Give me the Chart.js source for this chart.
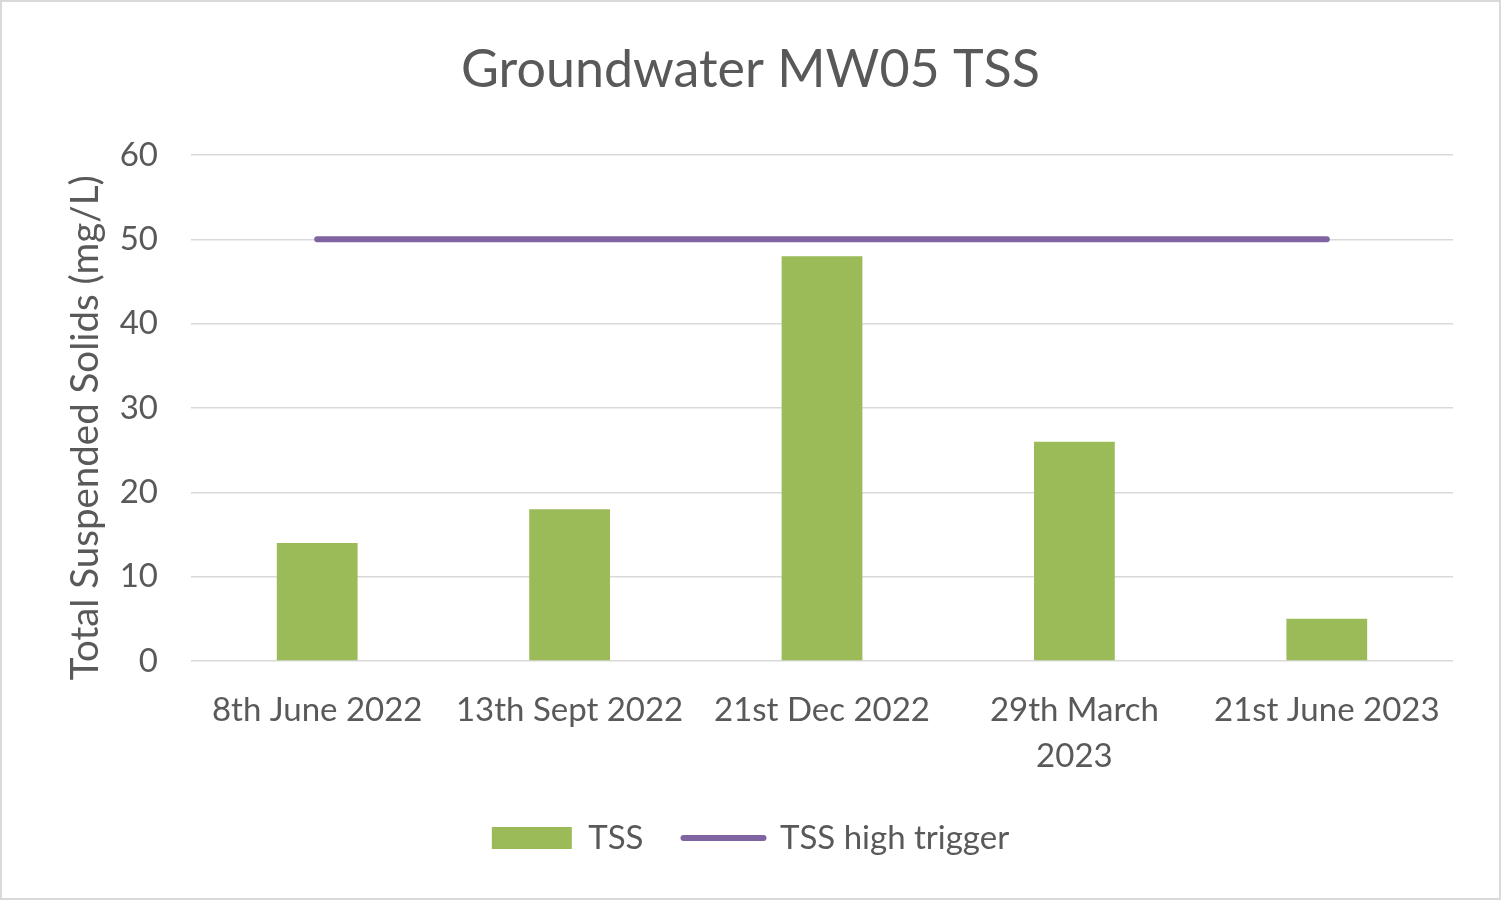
<!DOCTYPE html>
<html>
<head>
<meta charset="utf-8">
<title>Groundwater MW05 TSS</title>
<script src="https://cdn.jsdelivr.net/npm/chart.js@4"></script>
<style>
  html, body { margin: 0; padding: 0; background: #fff; }
  #frame { width: 1501px; height: 900px; box-sizing: border-box; border: 2px solid #d9d9d9; }
  canvas { display: block; }
</style>
</head>
<body>
<div id="frame"><canvas id="canvas" width="1497" height="896"></canvas></div>
<script>
const samplingDates = ['8th June 2022', '13th Sept 2022', '21st Dec 2022', ['29th March', '2023'], '21st June 2023'];
const tssValues = [14, 18, 48, 26, 5];
const triggerValues = [50, 50, 50, 50, 50];
const yTicks = [0, 10, 20, 30, 40, 50, 60];

const grey = '#595959';
const font = 'Lato, "Open Sans", sans-serif';

const myChart = new Chart(
    document.getElementById('canvas'),
    {
        type: 'bar',
        data: {
            labels: samplingDates,
            datasets: [
                {
                    type: 'line',
                    label: 'TSS high trigger',
                    data: triggerValues,
                    borderColor: '#8064a2',
                    backgroundColor: '#8064a2',
                    borderWidth: 6,
                    borderCapStyle: 'round',
                    pointRadius: 0,
                    pointHoverRadius: 0,
                    fill: false,
                    order: 0
                },
                {
                    label: 'TSS',
                    data: tssValues,
                    backgroundColor: '#9bbb59',
                    borderWidth: 0,
                    categoryPercentage: 1,
                    barPercentage: 0.32,
                    order: 1
                }
            ]
        },
        options: {
            responsive: false,
            animation: false,
            layout: { padding: { left: 23, right: 23, top: 0, bottom: 33.5 } },
            plugins: {
                title: {
                    display: true,
                    text: 'Groundwater MW05 TSS',
                    color: grey,
                    font: { family: font, size: 52, weight: 'normal', lineHeight: 1.2 },
                    padding: { top: 36.8, bottom: 53.8 }
                },
                legend: {
                    position: 'bottom',
                    reverse: true,
                    labels: {
                        color: grey,
                        font: { family: font, size: 33 },
                        usePointStyle: true,
                        pointStyleWidth: 80,
                        boxHeight: 22,
                        padding: 40,
                        generateLabels: (chart) => chart.data.datasets.map((ds, i) => ({
                            text: ds.label,
                            datasetIndex: i,
                            fillStyle: ds.type === 'line' ? 'rgba(0,0,0,0)' : ds.backgroundColor,
                            strokeStyle: ds.type === 'line' ? ds.borderColor : 'rgba(0,0,0,0)',
                            lineWidth: ds.type === 'line' ? 6 : 0,
                            lineCap: 'round',
                            pointStyle: ds.type === 'line' ? 'line' : 'rect',
                            fontColor: grey,
                            hidden: false
                        }))
                    }
                },
                tooltip: { enabled: false }
            },
            scales: {
                x: {
                    grid: { display: false, drawTicks: false },
                    border: { display: false },
                    ticks: {
                        color: grey,
                        font: { family: font, size: 33, lineHeight: 1.42 },
                        padding: 25.5,
                        maxRotation: 0,
                        autoSkip: false
                    },
                    afterFit: (scale) => { scale.height = 120.5; }
                },
                y: {
                    min: 0,
                    max: 60,
                    afterBuildTicks: (scale) => { scale.ticks = yTicks.map(v => ({ value: v })); },
                    grid: { color: '#d9d9d9', lineWidth: 1.5, drawTicks: false },
                    border: { display: false },
                    ticks: {
                        color: grey,
                        font: { family: font, size: 33 },
                        padding: 33
                    },
                    title: {
                        display: true,
                        // trailing spaces nudge the rotated title down a little
                        text: 'Total Suspended Solids (mg/L)    ',
                        color: grey,
                        font: { family: font, size: 38.5, lineHeight: 1.2 },
                        padding: { top: 37, bottom: 0 }
                    },
                    afterFit: (scale) => { scale.width = 166; }
                },
                // empty right-hand axis, keeps the plot clear of the right edge
                yRight: {
                    position: 'right',
                    grid: { display: false, drawTicks: false },
                    border: { display: false },
                    ticks: { display: false },
                    afterFit: (scale) => { scale.width = 23; }
                }
            }
        }
    }
);
</script>
</body>
</html>
